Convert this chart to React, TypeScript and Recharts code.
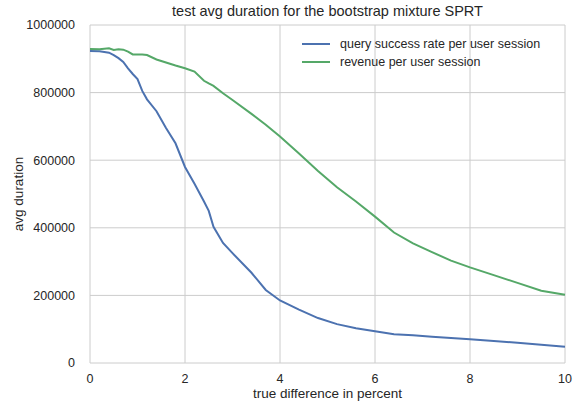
import { LineChart, Line, XAxis, YAxis, CartesianGrid } from 'recharts'

const diffPercent = [
  0, 0.2, 0.4, 0.5, 0.6, 0.7, 0.8, 0.9, 1.0, 1.1, 1.2, 1.4, 1.6, 1.8, 2.0, 2.2, 2.4, 2.5, 2.6, 2.8,
  3.0, 3.4, 3.7, 4.0, 4.4, 4.8, 5.2, 5.6, 6.0, 6.4, 6.8, 7.2, 7.6, 8.0, 8.5, 9.0, 9.5, 10,
]

const querySuccess = [
  923000, 922000, 918000, 911000, 902000, 891000, 872000, 855000, 840000, 805000, 780000, 745000,
  695000, 650000, 580000, 530000, 478000, 450000, 403000, 355000, 325000, 267000, 216000, 185000,
  158000, 133000, 115000, 103000, 94000, 85000, 82000, 78000, 74000, 70000, 65000, 60000, 54000,
  48000,
]

const revenue = [
  929000, 928000, 931000, 926000, 928000, 927000, 921000, 913000, 913000, 913000, 911000, 898000,
  889000, 880000, 872000, 862000, 835000, 827000, 820000, 798000, 778000, 737000, 705000, 670000,
  620000, 568000, 520000, 478000, 433000, 386000, 354000, 328000, 303000, 283000, 260000, 237000,
  214000, 202000,
]

const xTicks = [0, 2, 4, 6, 8, 10]
const yTicks = [0, 200000, 400000, 600000, 800000, 1000000]

const seriesNames = ['query success rate per user session', 'revenue per user session']
const colors = ['#4c72b0', '#55a868']

const chartData = diffPercent.map((x, i) => ({
  x,
  query: querySuccess[i],
  revenue: revenue[i],
}))

const font = '"Liberation Sans", Arial, sans-serif'
const textColor = '#262626'

export default function App() {
  return (
    <div style={{ position: 'absolute', left: 0, top: 0, width: 573, height: 404, background: '#fff' }}>
      <LineChart
        width={573}
        height={404}
        data={chartData}
        margin={{ top: 25, right: 8, bottom: 0, left: 0 }}
      >
        <CartesianGrid stroke="#cccccc" strokeWidth={1} />
        <XAxis
          dataKey="x"
          type="number"
          domain={[0, 10]}
          ticks={xTicks}
          axisLine={false}
          tickLine={false}
          height={41}
          tickMargin={5}
          tick={{ fill: textColor, fontSize: 12.5, fontFamily: font }}
        />
        <YAxis
          type="number"
          domain={[0, 1000000]}
          ticks={yTicks}
          axisLine={false}
          tickLine={false}
          width={90}
          tickMargin={9}
          tick={{ fill: textColor, fontSize: 12.5, fontFamily: font }}
        />
        <Line
          dataKey="query"
          name={seriesNames[0]}
          stroke={colors[0]}
          strokeWidth={2}
          dot={false}
          isAnimationActive={false}
        />
        <Line
          dataKey="revenue"
          name={seriesNames[1]}
          stroke={colors[1]}
          strokeWidth={2}
          dot={false}
          isAnimationActive={false}
        />
      </LineChart>
      <div
        style={{
          position: 'absolute',
          top: 3,
          left: 90,
          width: 475,
          textAlign: 'center',
          fontFamily: font,
          fontSize: 14.5,
          color: textColor,
        }}
      >
        test avg duration for the bootstrap mixture SPRT
      </div>
      <div
        style={{
          position: 'absolute',
          top: 386,
          left: 90,
          width: 475,
          textAlign: 'center',
          fontFamily: font,
          fontSize: 13.5,
          color: textColor,
        }}
      >
        true difference in percent
      </div>
      <div
        style={{
          position: 'absolute',
          left: 18,
          top: 194,
          transform: 'translate(-50%, -50%) rotate(-90deg)',
          whiteSpace: 'nowrap',
          fontFamily: font,
          fontSize: 13.5,
          color: textColor,
        }}
      >
        avg duration
      </div>
      <div
        style={{
          position: 'absolute',
          top: 35,
          left: 302,
          fontFamily: font,
          fontSize: 12.5,
          color: textColor,
        }}
      >
        {seriesNames.map((name, i) => (
          <div key={name} style={{ display: 'flex', alignItems: 'center', height: 18 }}>
            <svg width={28} height={10} style={{ marginRight: 10 }}>
              <line x1={0} y1={5} x2={28} y2={5} stroke={colors[i]} strokeWidth={2} />
            </svg>
            <span>{name}</span>
          </div>
        ))}
      </div>
    </div>
  )
}
